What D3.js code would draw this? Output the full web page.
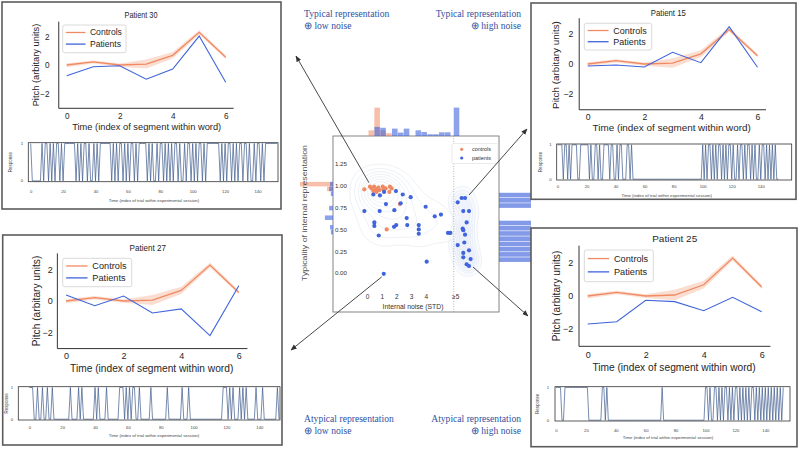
<!DOCTYPE html>
<html><head><meta charset="utf-8">
<script src="https://cdn.jsdelivr.net/npm/d3@7"></script>
<style>body{margin:0;background:#fff}svg{display:block}text{font-family:"Liberation Sans",Arial,sans-serif}</style>
</head><body>
<script>
// ---------------- DATA ----------------
const segments = [0,1,2,3,4,5,6];
const controlsMean = [0.0,0.22,0.0,0.06,0.68,2.3,0.55];
const controlsLow  = [-0.15,0.1,-0.12,-0.25,0.45,2.15,0.43];
const controlsHigh = [0.12,0.32,0.1,0.38,0.92,2.45,0.68];
const patient30 = [-0.75,-0.12,-0.05,-1.0,-0.28,2.04,-1.22];
const patient15 = [-0.13,-0.07,-0.2,0.78,0.09,2.49,-0.22];
const patient27 = [0.38,-0.3,0.32,-0.77,-0.51,-2.22,0.98];
const patient25 = [-1.7,-1.56,-0.26,-0.34,-0.89,-0.08,-0.95];

const resp30 = [1,0,0,0,0,0,0,1,0,1, 1,0,1,0,1,0,1,1,0,1, 0,1,1,1,1,1,1,1,0,1, 0,1,0,1,1,0,1,0,0,1,
  0,1,0,1,1,1,1,1,1,1, 0,1,0,1,0,1,1,0,1,0, 1,0,1,1,0,1,0,1,1,1, 1,1,0,1,0,1,0,0,1,0,
  1,1,0,1,0,1,0,1,0,1, 1,0,1,0,0,1,0,1,1,0, 1,0,1,0,1,1,0,1,0,1, 1,1,1,1,1,1,1,0,1,0,
  1,0,1,1,0,1,0,1,0,1, 1,0,1,1,0,1,0,0,1,0, 1,1,0,1,0,1,1,1,1,1, 1,1,1];
const resp15 = [1,1,1,1,0,1,1,0,1,0,1,1,1,1,0,0,1,1,1,1,1,1,0,1,0,0,1,1,0,1,0,0,1,1,1,1,0,1,1,0,0,1,0,1,1,0,0,0,1,1,0,1,0,0,0,0,
  0,0,0,0,0,0,0,0,0,0,0,0,0,0,0,0,0,0,0,0,0,0,0,0,0,0,0,0,0,0,0,0,0,0,0,0,0,0,0,0,0,0,0,0,
  1,0,1,0,1,1,0,1,0,1,0,1,1,0,1,0,1,0,1,1,0,1,0,0,1,0,1,1,0,1,0,1,1,0,1,0,1,0,0,1,0,1,1,0,1,0,1,0,1,0,1,0,0];
const resp27 = [1,1,1,0,0,1,0,0,1,0, 0,1,0,0,1,0,0,0,0,0, 0,0,0,0,0,1,0,0,0,0, 1,0,1,0,0,0,0,0,0,0,
  1,0,1,0,0,0,0,1,0,0, 0,0,0,0,0,1,1,1,0,1, 0,1,0,1,1,0,0,1,0,0, 0,0,0,0,1,0,0,0,0,0,
  0,0,0,0,1,0,0,0,0,0, 0,0,0,1,0,0,0,1,0,0, 0,0,0,0,0,0,0,0,0,0, 0,0,0,0,0,0,0,0,1,1,
  1,0,1,0,1,0,0,0,1,0, 1,0,1,0,0,0,0,0,1,0, 0,0,1,0,0,0,0,0,0,0, 0,1,0];
const resp25 = [1,1,1,1,0,0,1,1,1,1, 1,1,1,1,1,1,1,1,1,1, 1,1,0,0,0,0,0,0,0,0, 0,1,1,0,1,0,0,0,0,0,
  0,0,0,0,0,0,0,0,0,0, 0,0,0,0,0,0,0,0,0,0, 0,0,0,0,0,0,0,0,0,0, 0,1,0,0,0,0,0,0,0,0,
  0,0,0,0,0,0,0,0,0,0, 0,0,0,0,0,0,0,0,0,0,
  1,1,0,1,0,0,1,1,0,1,0,1,0,1,1,0,1,0,1,0,1,1,0,1,0,1,0,1,0,1,0,1,1,0,1,0,1,0,1,0,1,0,1,0,1,0,1,0,1,0,1,0,1];

// scatter: internal noise (STD) & typicality
const controlsNoise = [-0.18,0.20,0.32,0.48,0.43,0.61,0.77,0.84,1.07,1.11,1.27,1.56,1.68,1.52,2.24,1.34,0.65];
const controlsTyp   = [0.96,0.99,0.97,0.99,0.94,0.96,0.98,0.95,0.99,0.96,0.97,0.99,0.97,0.93,0.79,0.50,0.93];
const patientsNoise = [0.43,0.88,1.16,1.97,2.43,2.97,-0.18,0.86,1.29,1.86,2.29,2.70,3.99,4.61,5.03,0.50,0.50,0.80,1.84,1.99,2.74,3.52,3.52,3.52,5.51,5.67,4.06,1.14,
  6.17,6.44,6.67,6.55,6.94,6.78,6.51,6.55,6.67,6.17,6.62,6.94,6.55,6.55,7.05,6.78,6.94];
const patientsTyp   = [0.90,0.89,0.93,0.94,0.90,0.87,0.71,0.71,0.79,0.72,0.80,0.63,0.76,0.65,0.67,0.58,0.54,0.43,0.53,0.55,0.55,0.55,0.50,0.45,0.46,0.46,0.13,-0.01,
  0.81,0.86,0.86,0.71,0.71,0.58,0.51,0.49,0.44,0.32,0.35,0.26,0.23,0.18,0.16,0.10,0.08];
const noiseTicks = [0,1,2,3,4,6];
const noiseTickLabels = ["0","1","2","3","4","\u22655"];
const typTicks = [0,0.25,0.5,0.75,1.0,1.25];
const noiseCut = 5.9;

// marginal histograms
const noiseBinEdges = [0.1,0.5,0.9,1.3,1.7,2.1,2.5,2.9,3.3,3.7,4.1,4.5,4.9,5.3,5.9];
const noiseBinWidth = 0.4;
const noiseCountsControls = [2,10,2,1,0,0,0,0,0,0,0,0,0,0,0];
const noiseCountsPatients = [0,3.2,2.9,0,2.6,1.2,2.6,0,2,1.4,0.6,0.6,1.3,1.3,10];
const typBinEdges = [0.44,0.495,0.55,0.605,0.66,0.715,0.77,0.825,0.88,0.935,0.99];
const typBinWidth = 0.055;
const typCountsControls = [0,0,0,0,0,0,0,0,0,2,11];
const typCountsPatientsLow = [0.7,1,0,2.7,0,1.3,0,0,0.7,1.3,1];
const typHighEdges = [0.12,0.18,0.24,0.30,0.36,0.42,0.48,0.54,0.74,0.80,0.86];
const typHighWidth = 0.06;
const typCountsPatientsHigh = [3,3,3,3,3,3,3,3,3,3,3];

// ---------------- LAYOUT ----------------
const W=799,H=455;
const cOrange="#f08a62", cBlue="#3f64dc", cBand="#f7b59c", cAnno="#2f52a0";
const svg=d3.select('body').append('svg').attr('width',W).attr('height',H);
svg.append('rect').attr('width',W).attr('height',H).attr('fill','#fff');

// ---------------- SCATTER ----------------
const S={frame:[333,136,499,312], x0:367, xk:14.7, y0:273, yk:87.2};
const sx=d3.scaleLinear().domain([0,1]).range([S.x0,S.x0+S.xk]);
const sy=d3.scaleLinear().domain([0,1]).range([S.y0,S.y0-S.yk]);
const sg=svg.append('g');
const defs=svg.append('defs');
defs.append('clipPath').attr('id','fc').append('rect').attr('x',S.frame[0]).attr('y',S.frame[1]).attr('width',S.frame[2]-S.frame[0]).attr('height',S.frame[3]-S.frame[1]);
defs.append('clipPath').attr('id','rc').append('rect').attr('x',0).attr('y',0).attr('width',531).attr('height',H);

const ctrlPts=controlsNoise.map((d,i)=>[d,controlsTyp[i]]);
const patPts=patientsNoise.map((d,i)=>[d,patientsTyp[i]]);
const lowPts=ctrlPts.concat(patPts.filter(p=>p[0]<noiseCut));
const highPts=patPts.filter(p=>p[0]>=noiseCut);
const cg=sg.append('g').attr('clip-path','url(#fc)');
const dens2=d3.contourDensity().x(d=>sx(d[0])).y(d=>sy(d[1])).size([W,H]).bandwidth(5).thresholds(7)(highPts);
cg.selectAll('path.k2').data(dens2).join('path').attr('d',d3.geoPath()).attr('fill','#d6e0f5').attr('fill-opacity',0.09).attr('stroke','#e1e7f4').attr('stroke-width',0.6);
const dens=d3.contourDensity().x(d=>sx(d[0])).y(d=>sy(d[1])).size([W,H]).bandwidth(10).thresholds(10)(lowPts);
cg.selectAll('path.k1').data(dens).join('path').attr('d',d3.geoPath()).attr('fill','none').attr('stroke','#e9edf3').attr('stroke-width',0.8);

sg.append('rect').attr('x',S.frame[0]).attr('y',S.frame[1]).attr('width',S.frame[2]-S.frame[0]).attr('height',S.frame[3]-S.frame[1]).attr('fill','none').attr('stroke','#777').attr('stroke-width',0.9);
sg.append('line').attr('x1',sx(noiseCut)).attr('x2',sx(noiseCut)).attr('y1',S.frame[1]).attr('y2',S.frame[3]).attr('stroke','#999').attr('stroke-width',0.7).attr('stroke-dasharray','1,1.5');

// top histogram
const hTop=d3.scaleLinear().domain([0,10]).range([0,28.4]);
const tg=sg.append('g');
tg.selectAll('rect.o').data(noiseBinEdges).join('rect').attr('x',d=>sx(d)).attr('width',d=>sx(d+noiseBinWidth)-sx(d)-0.3)
  .attr('y',(d,i)=>S.frame[1]-hTop(noiseCountsControls[i])).attr('height',(d,i)=>hTop(noiseCountsControls[i])).attr('fill',cOrange).attr('fill-opacity',0.55);
tg.selectAll('rect.b').data(noiseBinEdges).join('rect').attr('x',d=>sx(d)).attr('width',d=>sx(d+noiseBinWidth)-sx(d)-0.3)
  .attr('y',(d,i)=>S.frame[1]-hTop(noiseCountsPatients[i])).attr('height',(d,i)=>hTop(noiseCountsPatients[i])).attr('fill',cBlue).attr('fill-opacity',0.6);
// left histogram
const hLeft=d3.scaleLinear().domain([0,10]).range([0,30]);
const lg=sg.append('g');
lg.selectAll('rect.o').data(typBinEdges).join('rect').attr('y',d=>sy(d+typBinWidth)).attr('height',d=>sy(d)-sy(d+typBinWidth)-0.3)
  .attr('x',(d,i)=>S.frame[0]-hLeft(typCountsControls[i])).attr('width',(d,i)=>hLeft(typCountsControls[i])).attr('fill',cOrange).attr('fill-opacity',0.55);
lg.selectAll('rect.b').data(typBinEdges).join('rect').attr('y',d=>sy(d+typBinWidth)).attr('height',d=>sy(d)-sy(d+typBinWidth)-0.3)
  .attr('x',(d,i)=>S.frame[0]-hLeft(typCountsPatientsLow[i])).attr('width',(d,i)=>hLeft(typCountsPatientsLow[i])).attr('fill',cBlue).attr('fill-opacity',0.6);
// right histogram
const hRight=d3.scaleLinear().domain([0,3]).range([0,45]);
sg.append('g').attr('clip-path','url(#rc)').selectAll('rect').data(typHighEdges).join('rect')
  .attr('y',d=>sy(d+typHighWidth)).attr('height',d=>sy(d)-sy(d+typHighWidth)-0.6)
  .attr('x',S.frame[2]).attr('width',(d,i)=>hRight(typCountsPatientsHigh[i])).attr('fill',cBlue).attr('fill-opacity',0.65);

// axes (labels inside frame)
sg.append('g').attr('transform',`translate(${S.frame[0]+14},0)`).call(d3.axisLeft(sy).tickValues(typTicks).tickFormat(d3.format('.2f')).tickSize(0).tickPadding(0))
  .call(g=>g.select('.domain').remove()).call(g=>g.selectAll('text').attr('font-size',6.2).attr('fill','#333').attr('font-family','Liberation Sans'));
sg.append('g').attr('transform',`translate(0,${294})`).call(d3.axisBottom(sx).tickValues(noiseTicks).tickFormat((d,i)=>noiseTickLabels[i]).tickSize(0).tickPadding(0))
  .call(g=>g.select('.domain').remove()).call(g=>g.selectAll('text').attr('font-size',6.5).attr('fill','#333').attr('font-family','Liberation Sans'));
sg.append('text').attr('x',413).attr('y',309).attr('text-anchor','middle').attr('font-size',6.8).attr('fill','#333').text('Internal noise (STD)');
sg.append('text').attr('transform','translate(307,213) rotate(-90)').attr('text-anchor','middle').attr('font-size',6.8)
  .attr('textLength',136).attr('lengthAdjust','spacingAndGlyphs').attr('fill','#555').text('Typicality of internal representation');

// points
sg.append('g').selectAll('circle').data(ctrlPts).join('circle').attr('cx',d=>sx(d[0])).attr('cy',d=>sy(d[1])).attr('r',2.1).attr('fill',cOrange);
sg.append('g').selectAll('circle').data(patPts).join('circle').attr('cx',d=>sx(d[0])).attr('cy',d=>sy(d[1])).attr('r',2.1).attr('fill',cBlue);
// legend
const lgd=sg.append('g');
lgd.append('rect').attr('x',452).attr('y',143.5).attr('width',46).attr('height',20).attr('rx',1.5).attr('fill','#fff').attr('stroke','#ddd').attr('stroke-width',0.6);
[["controls",cOrange],["patients",cBlue]].forEach((e,i)=>{
  lgd.append('circle').attr('cx',461.7).attr('cy',149.3+i*8.7).attr('r',1.6).attr('fill',e[1]);
  lgd.append('text').attr('x',472).attr('y',151.3+i*8.7).attr('font-size',5.4).attr('fill','#333').text(e[0]);
});

// ---------------- PANELS ----------------
const panels=[
 {title:"Patient 30", tlen:33, pv:patient30, resp:resp30, box:[2,2,281,209], tpos:[141,17.7], x0:66.7,xk:26.5,y0:65,yk:14.2, ytr:49.5, xty:119.5, xlab:[146.7,130], ylab:[36,65],
  leg:[62.7,25,126,52.7], strip:[28.3,142.7,278,181.7], s0:30.7, sk:1.62, sty:192.7, sxl:[154,201.7], syl:10, s01x:23, fs:{title:8.4,tick:8.2,lab:9.3,leg:8.6}},
 {title:"Patient 15", tlen:35, pv:patient15, resp:resp15, box:[531,3,796,199.3], tpos:[668.3,16], x0:587.7,xk:28.3,y0:64,yk:15, ytr:573.3, xty:119.5, xlab:[671.7,130.5], ylab:[556,65],
  leg:[584.3,23.3,651.7,50], strip:[556.7,144,791.7,180], s0:557.5, sk:1.452, sty:187.7, sxl:[666.7,196.7], syl:540, s01x:551.5, fs:{title:8.8,tick:8.7,lab:9.9,leg:9}},
 {title:"Patient 27", tlen:36.4, pv:patient27, resp:resp27, box:[2.7,235,282,445], tpos:[147.7,251], x0:66,xk:28.8,y0:301,yk:15.6, ytr:52.7, xty:359.5, xlab:[151.7,372], ylab:[36,301],
  leg:[62.7,258.3,131.7,286.7], strip:[18.3,386.7,280,420], s0:29.3, sk:1.643, sty:429, sxl:[154,437.3], syl:6.7, s01x:13, fs:{title:9,tick:9,lab:10.2,leg:9.2}},
 {title:"Patient 25", tlen:45, pv:patient25, resp:resp25, box:[531,228,797,446.7], tpos:[674.7,241.7], x0:587.7,xk:29,y0:296,yk:16.5, ytr:573.3, xty:358, xlab:[674,370.5], ylab:[556,296],
  leg:[584.3,250,653.3,281.7], strip:[555,386.7,790,421], s0:556, sk:1.495, sty:431.7, sxl:[668,439], syl:537, s01x:549, fs:{title:9.8,tick:9,lab:10.2,leg:9.2}}
];

panels.forEach(L=>{
  const g=svg.append('g');
  g.append('rect').attr('x',L.box[0]).attr('y',L.box[1]).attr('width',L.box[2]-L.box[0]).attr('height',L.box[3]-L.box[1])
    .attr('fill','#fff').attr('stroke','#5c5c5c').attr('stroke-width',1.6);
  const x=d3.scaleLinear().domain([0,6]).range([L.x0,L.x0+6*L.xk]);
  const y=d3.scaleLinear().domain([0,2]).range([L.y0,L.y0-2*L.yk]);
  const xl=x(-0.3), xr=x(6.3), yt=y(3.05), yb=y(-3.05);
  g.append('text').attr('x',L.tpos[0]).attr('y',L.tpos[1]).attr('text-anchor','middle').attr('font-size',L.fs.title)
    .attr('textLength',L.tlen).attr('lengthAdjust','spacingAndGlyphs').attr('fill','#262626').text(L.title);
  g.append('path').datum(segments).attr('d',d3.area().x(d=>x(d)).y0(d=>y(controlsLow[d])).y1(d=>y(controlsHigh[d])))
    .attr('fill',cBand).attr('fill-opacity',0.45);
  g.append('path').datum(segments).attr('d',d3.line().x(d=>x(d)).y(d=>y(controlsMean[d])))
    .attr('fill','none').attr('stroke',cOrange).attr('stroke-width',1.3);
  g.append('path').datum(segments).attr('d',d3.line().x(d=>x(d)).y(d=>y(L.pv[d])))
    .attr('fill','none').attr('stroke',cBlue).attr('stroke-width',1.1);
  // axes
  g.append('g').attr('transform',`translate(${xl},0)`).call(d3.axisLeft(y).tickValues([-2,0,2]).tickFormat(d3.format('d')).tickSize(0).tickPadding(xl-L.ytr))
    .call(a=>a.select('.domain').remove()).call(a=>a.selectAll('text').attr('font-size',L.fs.tick).attr('fill','#262626').attr('font-family','Liberation Sans'));
  g.append('g').attr('transform',`translate(0,${yb})`).call(d3.axisBottom(x).tickValues([0,2,4,6]).tickFormat(d3.format('d')).tickSize(0).tickPadding(L.xty-yb-0.71*L.fs.tick))
    .call(a=>a.select('.domain').remove()).call(a=>a.selectAll('text').attr('font-size',L.fs.tick).attr('fill','#262626').attr('font-family','Liberation Sans'));
  g.append('line').attr('x1',xl).attr('x2',xl).attr('y1',yt).attr('y2',yb).attr('stroke','#333').attr('stroke-width',1);
  g.append('line').attr('x1',xl).attr('x2',xr).attr('y1',yb).attr('y2',yb).attr('stroke','#333').attr('stroke-width',1);
  g.append('text').attr('x',L.xlab[0]).attr('y',L.xlab[1]).attr('text-anchor','middle').attr('font-size',L.fs.lab).attr('fill','#262626').text('Time (index of segment within word)');
  g.append('text').attr('transform',`translate(${L.ylab[0]},${L.ylab[1]}) rotate(-90)`).attr('text-anchor','middle').attr('dy','0.35em').attr('font-size',L.fs.lab).attr('fill','#262626').text('Pitch (arbitary units)');
  // legend
  const lw=L.leg[2]-L.leg[0], lh=L.leg[3]-L.leg[1];
  g.append('rect').attr('x',L.leg[0]).attr('y',L.leg[1]).attr('width',lw).attr('height',lh).attr('rx',2).attr('fill','#fff').attr('fill-opacity',0.85).attr('stroke','#d0d0d0').attr('stroke-width',0.8);
  [["Controls",cOrange],["Patients",cBlue]].forEach((e,i)=>{
    const yy=L.leg[1]+lh*(0.27+0.42*i);
    g.append('line').attr('x1',L.leg[0]+lw*0.05).attr('x2',L.leg[0]+lw*0.36).attr('y1',yy).attr('y2',yy).attr('stroke',e[1]).attr('stroke-width',1.3);
    g.append('text').attr('x',L.leg[0]+lw*0.43).attr('y',yy).attr('dy','0.35em').attr('font-size',L.fs.leg).attr('fill','#262626').text(e[0]);
  });
  // response strip
  const st=L.strip;
  const rx=d3.scaleLinear().domain([0,140]).range([L.s0,L.s0+140*L.sk]);
  const ry=d3.scaleLinear().domain([0,1]).range([st[3]-0.8,st[1]+0.8]);
  g.append('path').datum(L.resp).attr('d',d3.line().x((d,i)=>rx(i)).y(d=>ry(d))).attr('fill','none').attr('stroke','#3d5a8c').attr('stroke-width',0.7);
  g.append('rect').attr('x',st[0]).attr('y',st[1]).attr('width',st[2]-st[0]).attr('height',st[3]-st[1]).attr('fill','none').attr('stroke','#333').attr('stroke-width',0.8);
  g.append('g').attr('transform',`translate(0,${st[3]})`).call(d3.axisBottom(rx).tickValues([0,20,40,60,80,100,120,140]).tickSize(0).tickPadding(L.sty-st[3]-3))
    .call(a=>a.select('.domain').remove()).call(a=>a.selectAll('text').attr('font-size',4.2).attr('fill','#444').attr('font-family','Liberation Sans'));
  g.append('text').attr('x',L.s01x).attr('y',ry(1)).attr('dy','0.35em').attr('text-anchor','end').attr('font-size',4.2).attr('fill','#444').text('1');
  g.append('text').attr('x',L.s01x).attr('y',ry(0)).attr('dy','0.35em').attr('text-anchor','end').attr('font-size',4.2).attr('fill','#444').text('0');
  g.append('text').attr('x',L.sxl[0]).attr('y',L.sxl[1]).attr('text-anchor','middle').attr('font-size',4.3).attr('fill','#444').text('Time (index of trial within experimental session)');
  g.append('text').attr('transform',`translate(${L.syl},${(st[1]+st[3])/2}) rotate(-90)`).attr('text-anchor','middle').attr('dy','0.35em').attr('font-size',4.5).attr('fill','#444').text('Response');
});

// ---------------- ARROWS ----------------
defs.append('marker').attr('id','ah').attr('viewBox','0 0 10 10').attr('refX',9).attr('refY',5).attr('markerWidth',7).attr('markerHeight',7).attr('orient','auto')
  .append('path').attr('d','M0,1L10,5L0,9Z').attr('fill','#333');
const arrows=[
  {from:[controlsNoise[1],controlsTyp[1]], dy:-4, dx:-1, to:[296,56]},
  {from:[patientsNoise[30],patientsTyp[30]], dy:-3, dx:4, to:[527,129]},
  {from:[patientsNoise[44],patientsTyp[44]], dy:1, dx:4, to:[528,316]},
  {from:[patientsNoise[27],patientsTyp[27]], dy:3, dx:-2, to:[291,350]}
];
arrows.forEach(a=>{
  svg.append('line').attr('x1',sx(a.from[0])+a.dx).attr('y1',sy(a.from[1])+a.dy).attr('x2',a.to[0]).attr('y2',a.to[1])
    .attr('stroke','#333').attr('stroke-width',0.9).attr('marker-end','url(#ah)');
});

// ---------------- ANNOTATIONS ----------------
const annos=[
  {t:["Typical representation","\u2295 low noise"], x:304, y:17.3, a:'start'},
  {t:["Typical representation","\u2295 high noise"], x:521, y:17.3, a:'end'},
  {t:["Atypical representation","\u2295 low noise"], x:304, y:422.3, a:'start'},
  {t:["Atypical representation","\u2295 high noise"], x:521, y:422.3, a:'end'}
];
annos.forEach(a=>{
  a.t.forEach((s,i)=>{
    svg.append('text').attr('x',a.x).attr('y',a.y+i*12).attr('text-anchor',a.a).attr('font-size',9.6)
      .style('font-family','"Liberation Serif","Times New Roman",serif').attr('fill',cAnno).text(s);
  });
});
</script></body></html>
